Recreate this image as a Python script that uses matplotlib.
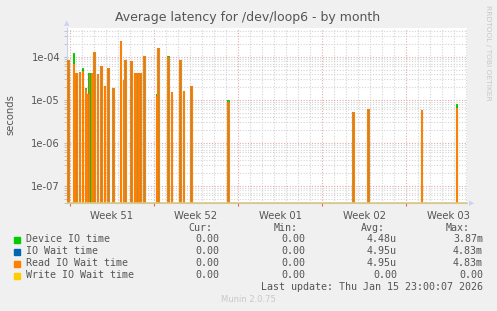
import matplotlib.pyplot as plt
import matplotlib.ticker as ticker
from matplotlib.patches import Rectangle
import numpy as np

# days counted from Mon Dec 15 2025 (start of week 51)
spike_days = [-0.17, 0.28, 0.5, 0.78, 1.03, 1.28, 1.5, 1.6, 1.78, 2.0, 2.28, 2.6,
              2.89, 3.17, 3.6, 4.22, 4.44, 4.6, 5.1, 5.39, 5.6, 5.83, 6.17, 7.25,
              7.33, 8.17, 8.44, 9.17, 9.44, 10.1, 13.17, 23.56, 24.83, 29.28, 32.2]
read_wait = [8.5e-5, 7e-5, 4.2e-5, 4.5e-5, 4.7e-5, 1.8e-5, 1.4e-5, 0, 4.2e-5, 1.3e-4,
             4e-5, 6e-5, 2.1e-5, 5.5e-5, 1.9e-5, 2.3e-4, 2.9e-5, 8.5e-5, 7.9e-5, 4.3e-5,
             4.3e-5, 4.3e-5, 1.05e-4, 1.24e-5, 1.6e-4, 1.0e-4, 1.5e-5, 8.5e-5, 1.65e-5,
             2.1e-5, 9e-6, 5.3e-6, 6.2e-6, 5.9e-6, 6.6e-6]
io_wait = read_wait
device_io = [7.5e-5, 1.2e-4, 3.8e-5, 4.0e-5, 5.5e-5, 1.9e-5, 1.2e-5, 4.2e-5, 3.8e-5, 1.1e-4,
             3.5e-5, 5e-5, 1.8e-5, 5e-5, 1.6e-5, 2e-4, 2.5e-5, 7.5e-5, 7e-5, 3.8e-5,
             3.8e-5, 3.8e-5, 9e-5, 1.4e-5, 1.4e-4, 1.05e-4, 1.3e-5, 7.5e-5, 1.5e-5,
             1.8e-5, 1e-5, 4.8e-6, 5.5e-6, 5.2e-6, 8.1e-6]

week_starts = [0, 7, 14, 21, 28]
week_labels = ["Week 51", "Week 52", "Week 01", "Week 02", "Week 03"]

legend_names = ["Device IO time", "IO Wait time", "Read IO Wait time", "Write IO Wait time"]
legend_colors = ["#00cc00", "#0066b3", "#ff8000", "#ffcc00"]
cur_vals = ["0.00", "0.00", "0.00", "0.00"]
min_vals = ["0.00", "0.00", "0.00", "0.00"]
avg_vals = ["4.48u", "4.95u", "4.95u", "0.00"]
max_vals = ["3.87m", "4.83m", "4.83m", "0.00"]

W, H = 497, 311
fig = plt.figure(figsize=(W / 100, H / 100), dpi=100, facecolor="#f0f0f0")
ax = fig.add_axes([67 / W, 1 - 203 / H, 400 / W, 175 / H])
ax.set_facecolor("white")
ax.set_yscale("log")
ymin, ymax = 4.0e-8, 4.7e-4
ax.set_xlim(-0.25, 33.08)
ax.set_ylim(ymin, ymax)

floor = 1e-9
fill = "#b88a40"
for vals, col in [(device_io, legend_colors[0]), (io_wait, legend_colors[1]), (read_wait, legend_colors[2])]:
    v = np.maximum(np.array(vals), floor)
    ax.bar(spike_days, v - floor, bottom=floor, width=0.13, color=fill,
           edgecolor=col, linewidth=0.75, zorder=3)

# write io wait is zero all month -> sits on the bottom edge
ax.axhline(ymin * 1.02, color="#d8c88a", lw=1.2, zorder=4)

# grid
ax.set_xticks(week_starts)
ax.set_xticks(np.arange(0, 34), minor=True)
ax.xaxis.set_major_formatter(ticker.NullFormatter())
ax.yaxis.set_major_locator(ticker.LogLocator(base=10, numticks=10))
ax.yaxis.set_minor_locator(ticker.LogLocator(base=10, subs=np.arange(2, 10), numticks=20))
ax.yaxis.set_major_formatter(ticker.FuncFormatter(lambda v, p: "%.0e" % v))
ax.yaxis.set_minor_formatter(ticker.NullFormatter())
ax.grid(which="minor", color="#d4d4d4", linestyle=(0, (1, 1.5)), linewidth=0.8, zorder=1)
ax.grid(which="major", color="#e8a8a8", linestyle=(0, (1, 1.5)), linewidth=0.8, zorder=2)
ax.tick_params(which="both", axis="y", length=2, color="#bbbbbb", labelsize=7.2,
               labelcolor="#555555", pad=3)
ax.tick_params(which="major", axis="x", length=2, color="#e06060", direction="out")
ax.tick_params(which="minor", axis="x", length=0)
ax.set_axisbelow(True)

for s in ["top", "right"]:
    ax.spines[s].set_visible(False)
ax.spines["left"].set_color("#c8cff0")
ax.spines["bottom"].set_color("#d8c88a")

for d, lab in zip(week_starts, week_labels):
    ax.text(d + 3.5, -0.045, lab, transform=ax.get_xaxis_transform(), ha="center",
            va="top", fontsize=7.2, color="#555555")

# axis arrows
fig.text(67 / W, 1 - 23 / H, "\u25b2", color="#ccd2f4", fontsize=5, ha="center", va="center")
fig.text(472 / W, 1 - 203 / H, "\u25b6", color="#ccd2f4", fontsize=5, ha="center", va="center")

fig.text(248 / W, 1 - 18 / H, "Average latency for /dev/loop6 - by month", ha="center",
         va="center", fontsize=9.0, color="#555555")
fig.text(10 / W, 1 - 115 / H, "seconds", rotation=90, ha="center", va="center",
         fontsize=7.2, color="#555555")
fig.text(488 / W, 1 - 5 / H, "RRDTOOL / TOBI OETIKER", rotation=270, ha="center",
         va="top", fontsize=5.4, color="#c8c8c8")

mono = "DejaVu Sans Mono"
tc = "#555555"
hy = 1 - 228 / H
for x, lab in [(212, "Cur:"), (298, "Min:"), (385, "Avg:"), (470, "Max:")]:
    fig.text(x / W, hy, lab, ha="right", va="center", family=mono, fontsize=7.2, color=tc)
for i, name in enumerate(legend_names):
    y = 239.5 + 12 * i
    fig.patches.append(Rectangle((14 / W, 1 - (y + 3) / H), 6 / W, 6 / H,
                                 color=legend_colors[i], transform=fig.transFigure))
    fig.text(26 / W, 1 - y / H, name, ha="left", va="center", family=mono, fontsize=7.2, color=tc)
    for x, v in [(219, cur_vals[i]), (305, min_vals[i]), (397, avg_vals[i]), (483, max_vals[i])]:
        fig.text(x / W, 1 - y / H, v, ha="right", va="center", family=mono, fontsize=7.2, color=tc)
fig.text(483 / W, 1 - 287.5 / H, "Last update: Thu Jan 15 23:00:07 2026", ha="right",
         va="center", family=mono, fontsize=7.2, color=tc)
fig.text(248 / W, 1 - 300 / H, "Munin 2.0.75", ha="center", va="center", fontsize=6,
         color="#c8c8c8")

fig.savefig("out.png", dpi=100, facecolor=fig.get_facecolor())
